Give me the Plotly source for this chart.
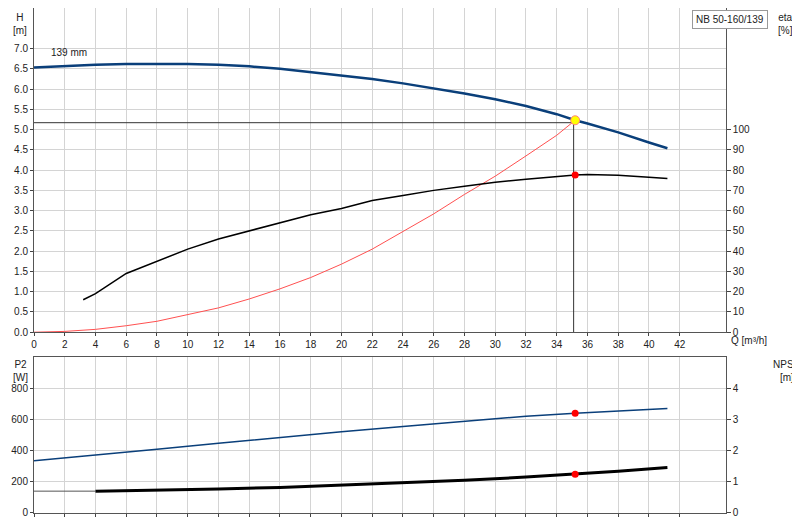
import plotly.graph_objects as go
from plotly.subplots import make_subplots

# head curve H [m]
q_h = [0, 2, 4, 6, 8, 10, 12, 14, 16, 18, 20, 22, 24, 26, 28, 30, 32, 34, 35.2, 36, 38, 40, 41.2]
h = [6.53, 6.57, 6.6, 6.62, 6.62, 6.62, 6.6, 6.56, 6.5, 6.42, 6.34, 6.25, 6.14, 6.02, 5.89, 5.75, 5.58, 5.38, 5.23, 5.15, 4.93, 4.68, 4.54]

# efficiency eta [%]
q_eta = [3.2, 4, 6, 8, 10, 12, 14, 16, 18, 20, 22, 24, 26, 28, 30, 32, 34, 35.2, 36, 38, 40, 41.2]
eta = [16, 19, 29, 35, 41, 46, 50, 54, 58, 61, 65, 67.5, 70, 72, 74, 75.5, 77, 77.6, 77.8, 77.5, 76.5, 75.8]

# system curve (in H units)
q_sys = [0, 2, 4, 6, 8, 10, 12, 14, 16, 18, 20, 22, 24, 26, 28, 30, 32, 34, 35.1]
h_sys = [0, 0.02, 0.07, 0.16, 0.27, 0.43, 0.6, 0.82, 1.07, 1.35, 1.68, 2.05, 2.48, 2.92, 3.4, 3.85, 4.35, 4.86, 5.2]

# P2 [W]
q_p2 = [0, 4, 8, 12, 16, 20, 24, 28, 32, 35.2, 38, 41.2]
p2 = [335, 370, 408, 447, 485, 520, 555, 588, 620, 640, 655, 670]

# NPSH [m]
q_npsh = [4, 8, 12, 16, 20, 24, 28, 32, 35.2, 38, 41.2]
npsh = [0.7, 0.73, 0.77, 0.82, 0.89, 0.97, 1.05, 1.15, 1.24, 1.34, 1.46]

duty_q, duty_h, duty_eta, duty_p2, duty_npsh = 35.2, 5.23, 77.6, 640, 1.24
x_ticks = list(range(0, 43, 2))

fig = make_subplots(rows=2, cols=1, specs=[[{"secondary_y": True}], [{"secondary_y": True}]],
                    vertical_spacing=0.05, row_heights=[0.64, 0.36])
fig.update_layout(yaxis_domain=[0.358, 1], yaxis2_domain=[0.358, 1],
                  yaxis3_domain=[0, 0.309], yaxis4_domain=[0, 0.309])

navy = "#0a3f7a"
# duty lines
fig.add_trace(go.Scatter(x=[0, duty_q - 0.1, duty_q - 0.1], y=[5.17, 5.17, 0], mode="lines",
                         line=dict(color="#333", width=1)), row=1, col=1)
fig.add_trace(go.Scatter(x=q_sys, y=h_sys, mode="lines", line=dict(color="#ff5050", width=1)), row=1, col=1)
fig.add_trace(go.Scatter(x=q_h, y=h, mode="lines", line=dict(color=navy, width=2.5)), row=1, col=1)
fig.add_trace(go.Scatter(x=q_eta, y=eta, mode="lines", line=dict(color="black", width=1.5)),
              row=1, col=1, secondary_y=True)
fig.add_trace(go.Scatter(x=[duty_q], y=[duty_eta], mode="markers", marker=dict(color="red", size=7)),
              row=1, col=1, secondary_y=True)
fig.add_trace(go.Scatter(x=[duty_q], y=[duty_h], mode="markers",
                         marker=dict(color="yellow", size=9, line=dict(color="#ff8080", width=1))), row=1, col=1)

fig.add_trace(go.Scatter(x=q_p2, y=p2, mode="lines", line=dict(color=navy, width=1.5)), row=2, col=1)
fig.add_trace(go.Scatter(x=[0, 4], y=[0.7, 0.7], mode="lines", line=dict(color="#555", width=1)),
              row=2, col=1, secondary_y=True)
fig.add_trace(go.Scatter(x=q_npsh, y=npsh, mode="lines", line=dict(color="black", width=3)),
              row=2, col=1, secondary_y=True)
fig.add_trace(go.Scatter(x=[duty_q], y=[duty_p2], mode="markers", marker=dict(color="red", size=7)), row=2, col=1)
fig.add_trace(go.Scatter(x=[duty_q], y=[duty_npsh], mode="markers", marker=dict(color="red", size=7)),
              row=2, col=1, secondary_y=True)

grid = "#d4d4d4"
ax = dict(range=[0, 45], tickvals=x_ticks, gridcolor=grid, showline=True, linecolor="#555", mirror=True,
          zeroline=False, ticks="outside", ticklen=3, automargin=False)
fig.update_xaxes(**ax, row=1, col=1)
fig.update_xaxes(**ax, showticklabels=False, row=2, col=1)
fig.update_yaxes(range=[0, 8], tickvals=[i * 0.5 for i in range(15)], tickformat=".1f", gridcolor=grid,
                 showline=True, linecolor="#555", zeroline=False, ticks="outside", ticklen=3, automargin=False,
                 row=1, col=1, secondary_y=False)
fig.update_yaxes(range=[0, 160], tickvals=list(range(0, 101, 10)), showgrid=False, showline=True,
                 linecolor="#555", zeroline=False, ticks="outside", ticklen=4, automargin=False,
                 row=1, col=1, secondary_y=True)
fig.update_yaxes(range=[0, 1000], tickvals=[0, 200, 400, 600, 800], gridcolor=grid, showline=True,
                 linecolor="#555", zeroline=False, ticks="outside", ticklen=3, automargin=False,
                 row=2, col=1, secondary_y=False)
fig.update_yaxes(range=[0, 5], tickvals=[0, 1, 2, 3, 4], showgrid=False, showline=True, linecolor="#555",
                 zeroline=False, ticks="outside", ticklen=4, automargin=False, row=2, col=1, secondary_y=True)

fig.update_layout(
    width=800, height=520, margin=dict(l=26, r=38, t=0, b=15),
    plot_bgcolor="white", paper_bgcolor="white", showlegend=False,
    font=dict(family="Liberation Sans", size=10, color="#222"),
)

# text placed in pixel positions converted to paper coords
f = dict(size=10, color="#222")
W, H = 736, 505


def px(xp, yp):
    return (xp - 26) / W, (505 - yp) / H


for txt, xp, yp in [("H<br>[m]", 12, 2), ("eta<br>[%]", 777, 2), ("P2<br>[W]", 12, 349), ("NPSH<br>[m]", 779, 349)]:
    xx, yy = px(xp, yp)
    fig.add_annotation(text=txt, x=xx, y=yy, xref="paper", yref="paper", showarrow=False, font=f,
                       xanchor="center", yanchor="top")
xx, yy = px(721, 333)
fig.add_annotation(text="Q [m³/h]", x=xx, y=yy, xref="paper", yref="paper", showarrow=False, font=f,
                   xanchor="left", yanchor="middle")
fig.add_annotation(text="139 mm", x=2.3, y=6.72, xref="x", yref="y", showarrow=False, font=f,
                   xanchor="center", yanchor="bottom")
xx, yy = px(760, 2)
fig.add_annotation(text="NB 50-160/139", x=xx, y=yy, xref="paper", yref="paper", showarrow=False, font=f,
                   xanchor="right", yanchor="top", bgcolor="white", bordercolor="#999", borderwidth=1, borderpad=3)

fig.write_html("out.html")
